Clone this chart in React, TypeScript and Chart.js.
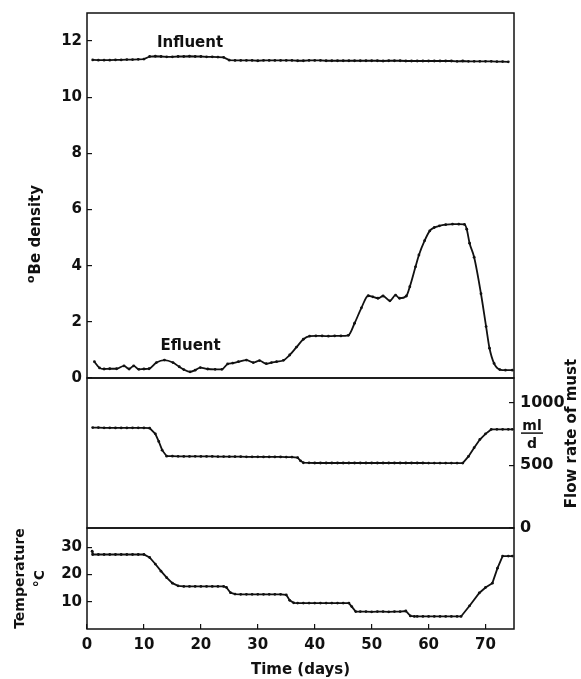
import React, { useEffect, useRef } from "react";
import { Chart, registerables } from "chart.js";
Chart.register(...registerables);

// ---------- data ----------
const X_MIN = 0;
const X_MAX = 75;
const xTicks = [0, 10, 20, 30, 40, 50, 60, 70];
const densityTicks = [0, 2, 4, 6, 8, 10, 12];
const flowTicks = [0, 500, 1000];
const tempTicks = [10, 20, 30];

const influentDays = [
  1, 2, 3, 4, 5, 6, 7, 8, 9, 10,
  11, 12, 13, 14, 15, 16, 17, 18, 19, 20, 21, 22, 23, 24,
  25, 26, 27, 28, 29, 30, 31, 32, 33, 34,
  35, 36, 37, 38, 39, 40, 41, 42, 43, 44,
  45, 46, 47, 48, 49, 50, 51, 52, 53, 54,
  55, 56, 57, 58, 59, 60, 61, 62, 63, 64,
  65, 66, 67, 68, 69, 70, 71, 72, 73, 74,
];
const influentValues = [
  11.33, 11.32, 11.32, 11.32, 11.33, 11.33, 11.34, 11.34, 11.35, 11.36,
  11.45, 11.46, 11.45, 11.44, 11.44, 11.45, 11.45, 11.46, 11.45, 11.45, 11.44, 11.44, 11.43, 11.42,
  11.32, 11.31, 11.31, 11.31, 11.31, 11.3, 11.31, 11.31, 11.31, 11.31,
  11.31, 11.31, 11.3, 11.3, 11.31, 11.31, 11.31, 11.3, 11.3, 11.3,
  11.3, 11.3, 11.3, 11.3, 11.3, 11.3, 11.3, 11.29, 11.3, 11.3,
  11.3, 11.29, 11.29, 11.29, 11.29, 11.29, 11.29, 11.29, 11.29, 11.29,
  11.28, 11.29, 11.28, 11.28, 11.28, 11.28, 11.28, 11.27, 11.27, 11.26,
];

const effluentDays = [
  1.3, 2.2, 3, 4, 5.2, 6.5, 7.4, 8.2, 9.1, 10, 10.9, 12.2, 13.6, 15.1, 16.2, 17, 18.1, 19,
  19.9, 21.2, 22.5, 23.7, 24.7, 25.6, 26.6, 28, 29.2, 30.3, 31.5, 32.4, 33.3, 34.5, 35.6,
  36.8, 38, 39.1, 40.2, 41.3, 42.4, 43.5, 44.6, 45.9, 47, 48.2, 49.4, 50.2, 51.1, 52, 53.2,
  54.2, 54.9, 56.1, 56.7, 57.7, 58.3, 59.3, 60.2, 61, 61.9, 63, 64.2, 65.3, 66.3, 66.7,
  67.2, 68, 69.2, 70.1, 70.7, 71.5, 72.5, 73.5, 74.7,
];
const effluentValues = [
  0.58, 0.36, 0.32, 0.33, 0.33, 0.43, 0.32, 0.43, 0.31, 0.32, 0.33, 0.55, 0.64, 0.55, 0.4, 0.3, 0.22, 0.28,
  0.37, 0.32, 0.31, 0.31, 0.5, 0.53, 0.58, 0.64, 0.55, 0.62, 0.51, 0.55, 0.58, 0.63, 0.82,
  1.1, 1.38, 1.49, 1.5, 1.5, 1.49, 1.5, 1.5, 1.52, 1.95, 2.5, 2.93, 2.89, 2.84, 2.92, 2.75,
  2.95, 2.84, 2.92, 3.25, 3.96, 4.38, 4.89, 5.24, 5.36, 5.42, 5.46, 5.48, 5.48, 5.47, 5.3,
  4.8, 4.3, 3.0, 1.83, 1.06, 0.52, 0.3, 0.28, 0.28,
];

const flowDays = [
  1, 2, 3, 4, 5, 6, 7, 8, 9, 10, 11, 12, 12.6, 13.2, 14,
  15, 16, 17, 18, 19, 20, 21, 22, 23, 24, 25, 26, 27, 28, 29, 30, 31, 32, 33, 34, 35, 36,
  37, 37.5, 38,
  39, 40, 41, 42, 43, 44, 45, 46, 47, 48, 49, 50, 51, 52, 53, 54, 55, 56, 57, 58, 59, 60,
  61, 62, 63, 64, 65, 66,
  67, 68, 69, 70, 71, 72, 73, 74, 74.7,
];
const flowValues = [
  800, 800, 798, 798, 797, 797, 797, 798, 798, 797, 795, 750, 690, 620, 572,
  572, 571, 570, 570, 571, 570, 570, 570, 569, 569, 568, 568, 568, 567, 567, 567, 566, 566, 566, 566, 565, 565,
  560, 535, 520,
  519, 518, 518, 518, 518, 518, 518, 518, 518, 518, 518, 518, 518, 518, 518, 518, 518, 518, 518, 518, 518, 517,
  517, 517, 517, 517, 517, 517,
  570, 640, 705, 750, 785, 786, 786, 786, 786,
];

const tempDays = [
  0.9, 1, 2, 3, 4, 5, 6, 7, 8, 9, 10, 11, 12, 13, 14, 15, 16,
  17, 18, 19, 20, 21, 22, 23, 24, 24.5, 25.2, 26,
  27, 28, 29, 30, 31, 32, 33, 34, 35, 35.6, 36.3,
  37, 38, 39, 40, 41, 42, 43, 44, 45, 46, 46.5, 47.2,
  48, 49, 50, 51, 52, 53, 54, 55, 56, 56.8, 57.5,
  58, 59, 60, 61, 62, 63, 64, 65, 65.7, 67.2, 68.9, 70, 71.2, 72.1, 73, 74, 74.7,
];
const tempValues = [
  28.5, 27.3, 27.3, 27.3, 27.3, 27.3, 27.3, 27.3, 27.3, 27.3, 27.3, 26.2, 23.8, 21.2, 18.8, 16.8, 15.8,
  15.6, 15.6, 15.6, 15.6, 15.6, 15.6, 15.6, 15.6, 15.2, 13.3, 12.8,
  12.7, 12.7, 12.7, 12.7, 12.7, 12.7, 12.7, 12.7, 12.5, 10.5, 9.6,
  9.5, 9.5, 9.5, 9.5, 9.5, 9.5, 9.5, 9.5, 9.5, 9.5, 8.2, 6.4,
  6.4, 6.4, 6.3, 6.4, 6.4, 6.3, 6.4, 6.4, 6.6, 4.8, 4.6,
  4.6, 4.6, 4.6, 4.6, 4.6, 4.6, 4.6, 4.6, 4.6, 8.5, 13.2, 15.2, 16.8, 22.3, 26.7, 26.7, 26.7,
];

const noteLabels = ["Influent", "Efluent"];
const noteDays = [18.1, 18.2];
const noteValues = [11.92, 1.14];

// ---------- styling ----------
const FONT = '"DejaVu Sans", "Liberation Sans", sans-serif';
const INK = "#111";
const W = 581;
const PLOT_LEFT = 87;
const PLOT_RIGHT = 514;

const zip = (xs: number[], ys: number[]) => xs.map((x, i) => ({ x, y: ys[i] }));

const lineStyle = {
  borderColor: INK,
  borderWidth: 1.8,
  pointRadius: 1.4,
  pointBackgroundColor: INK,
  pointBorderWidth: 0,
  pointHoverRadius: 0,
  fill: false,
};

const framePlugin = {
  id: "frame",
  afterDatasetsDraw(chart: any) {
    const { ctx, chartArea: a } = chart;
    ctx.save();
    ctx.strokeStyle = INK;
    ctx.lineWidth = 1.5;
    ctx.strokeRect(a.left, a.top, a.right - a.left, a.bottom - a.top);
    ctx.restore();
  },
};

const tickGrid = { drawOnChartArea: false, tickLength: -5, color: INK, lineWidth: 1.2 };

const fixedTicks = (vals: number[]) => (s: any) => {
  s.ticks = vals.map((v) => ({ value: v }));
};

const fitWidth = (w: number) => (s: any) => {
  s.width = w;
  s.paddingTop = 0;
  s.paddingBottom = 0;
  s.paddingLeft = 0;
  s.paddingRight = 0;
};

const fitHeight = (h: number) => (s: any) => {
  s.height = h;
  s.paddingTop = 0;
  s.paddingBottom = 0;
  s.paddingLeft = 0;
  s.paddingRight = 0;
};

const plainLabel = (v: any) => String(v);

function rotatedText(ctx: any, text: string, x: number, y: number, font: string) {
  ctx.save();
  ctx.translate(x, y);
  ctx.rotate(-Math.PI / 2);
  ctx.font = font;
  ctx.textAlign = "center";
  ctx.textBaseline = "middle";
  ctx.fillStyle = INK;
  ctx.fillText(text, 0, 0);
  ctx.restore();
}

const densityTextPlugin = {
  id: "densityText",
  afterDraw(chart: any) {
    const { ctx, scales } = chart;
    ctx.save();
    ctx.font = `bold 15px ${FONT}`;
    ctx.fillStyle = INK;
    ctx.textAlign = "center";
    ctx.textBaseline = "middle";
    noteLabels.forEach((t, i) => {
      ctx.fillText(t, scales.x.getPixelForValue(noteDays[i]), scales.y.getPixelForValue(noteValues[i]));
    });
    // axis title with raised degree sign
    const cx = 36;
    const cy = 234;
    ctx.translate(cx, cy);
    ctx.rotate(-Math.PI / 2);
    const main = "Be density";
    ctx.font = `bold 15px ${FONT}`;
    const wMain = ctx.measureText(main).width;
    ctx.font = `bold 11px ${FONT}`;
    const wDeg = ctx.measureText("o").width;
    const start = -(wMain + wDeg + 1) / 2;
    ctx.textAlign = "left";
    ctx.fillText("o", start, -5);
    ctx.font = `bold 15px ${FONT}`;
    ctx.fillText(main, start + wDeg + 1, 0);
    ctx.restore();
  },
};

const flowTextPlugin = {
  id: "flowText",
  afterDraw(chart: any) {
    const { ctx, scales } = chart;
    const y = scales.y;
    const mid = y.getPixelForValue(760);
    ctx.save();
    ctx.fillStyle = INK;
    ctx.strokeStyle = INK;
    ctx.font = `bold 14px ${FONT}`;
    ctx.textAlign = "center";
    ctx.textBaseline = "middle";
    const cx = PLOT_RIGHT + 18;
    ctx.fillText("ml", cx, mid - 6);
    ctx.lineWidth = 1.5;
    ctx.beginPath();
    ctx.moveTo(cx - 11, mid + 0.5);
    ctx.lineTo(cx + 11, mid + 0.5);
    ctx.stroke();
    ctx.fillText("d", cx, mid + 12);
    ctx.restore();
    rotatedText(ctx, "Flow rate of must", 572, mid + 1, `bold 15px ${FONT}`);
  },
};

function useChart(ref: any, config: any) {
  useEffect(() => {
    if (!ref.current) return;
    const c = new Chart(ref.current, config);
    return () => c.destroy();
  }, []);
}

export default function App() {
  const refA = useRef<HTMLCanvasElement>(null);
  const refB = useRef<HTMLCanvasElement>(null);
  const refC = useRef<HTMLCanvasElement>(null);

  const common = {
    animation: false,
    responsive: false,
    maintainAspectRatio: false,
    events: [],
    plugins: { legend: { display: false }, tooltip: { enabled: false } },
  };

  const tickFont = (size: number) => ({ family: FONT, size, weight: "bold" });

  useChart(refA, {
    type: "line",
    data: {
      datasets: [
        { label: "Influent", data: zip(influentDays, influentValues), ...lineStyle, tension: 0 },
        {
          label: "Efluent",
          data: zip(effluentDays, effluentValues),
          ...lineStyle,
          cubicInterpolationMode: "monotone",
        },
      ],
    },
    options: {
      ...common,
      layout: { padding: { left: 0, right: W - PLOT_RIGHT, top: 13, bottom: 12 } },
      scales: {
        x: { type: "linear", min: X_MIN, max: X_MAX, display: false },
        y: {
          type: "linear",
          position: "left",
          min: 0,
          max: 13,
          afterFit: fitWidth(PLOT_LEFT),
          afterBuildTicks: fixedTicks(densityTicks),
          ticks: { color: INK, font: tickFont(15), padding: 10, callback: plainLabel },
          grid: tickGrid,
          border: { display: false },
        },
      },
    },
    plugins: [framePlugin, densityTextPlugin],
  });

  useChart(refB, {
    type: "line",
    data: {
      datasets: [{ label: "Flow", data: zip(flowDays, flowValues), ...lineStyle, tension: 0 }],
    },
    options: {
      ...common,
      layout: { padding: { left: PLOT_LEFT, right: 0, top: 48, bottom: 12 } },
      scales: {
        x: { type: "linear", min: X_MIN, max: X_MAX, display: false },
        y: {
          type: "linear",
          position: "right",
          min: 0,
          max: 1195,
          afterFit: fitWidth(W - PLOT_RIGHT),
          afterBuildTicks: fixedTicks(flowTicks),
          ticks: { color: INK, font: tickFont(16), padding: 11, callback: plainLabel },
          grid: tickGrid,
          border: { display: false },
        },
      },
    },
    plugins: [framePlugin, flowTextPlugin],
  });

  useChart(refC, {
    type: "line",
    data: {
      datasets: [{ label: "Temperature", data: zip(tempDays, tempValues), ...lineStyle, tension: 0 }],
    },
    options: {
      ...common,
      layout: { padding: { left: 0, right: W - PLOT_RIGHT, top: 8, bottom: 0 } },
      scales: {
        x: {
          type: "linear",
          position: "bottom",
          min: X_MIN,
          max: X_MAX,
          afterFit: fitHeight(50),
          afterBuildTicks: fixedTicks(xTicks),
          ticks: { color: INK, font: tickFont(15), padding: 12, maxRotation: 0, callback: plainLabel },
          grid: tickGrid,
          border: { display: false },
          title: {
            display: true,
            text: "Time (days)",
            color: INK,
            font: { family: FONT, size: 15, weight: "bold" },
            padding: { top: 0, bottom: 0 },
          },
        },
        y: {
          type: "linear",
          position: "left",
          min: 0,
          max: 37,
          afterFit: fitWidth(PLOT_LEFT),
          afterBuildTicks: fixedTicks(tempTicks),
          ticks: { color: INK, font: tickFont(15), padding: 10, callback: plainLabel },
          grid: tickGrid,
          border: { display: false },
          title: {
            display: true,
            text: ["Temperature", "°C"],
            color: INK,
            font: { family: FONT, size: 14, weight: "bold", lineHeight: 1.45 },
            padding: { top: 10, bottom: 0 },
          },
        },
      },
    },
    plugins: [framePlugin],
  });

  const cv = (top: number, h: number): any => ({
    position: "absolute",
    left: 0,
    top,
    width: W,
    height: h,
  });

  return (
    <div style={{ position: "absolute", left: 0, top: 0, width: W, height: 679, overflow: "hidden", background: "#fff" }}>
      <canvas ref={refA} width={W} height={390} style={cv(0, 390)} />
      <canvas ref={refC} width={W} height={159} style={cv(520, 159)} />
      <canvas ref={refB} width={W} height={210} style={cv(330, 210)} />
    </div>
  );
}
